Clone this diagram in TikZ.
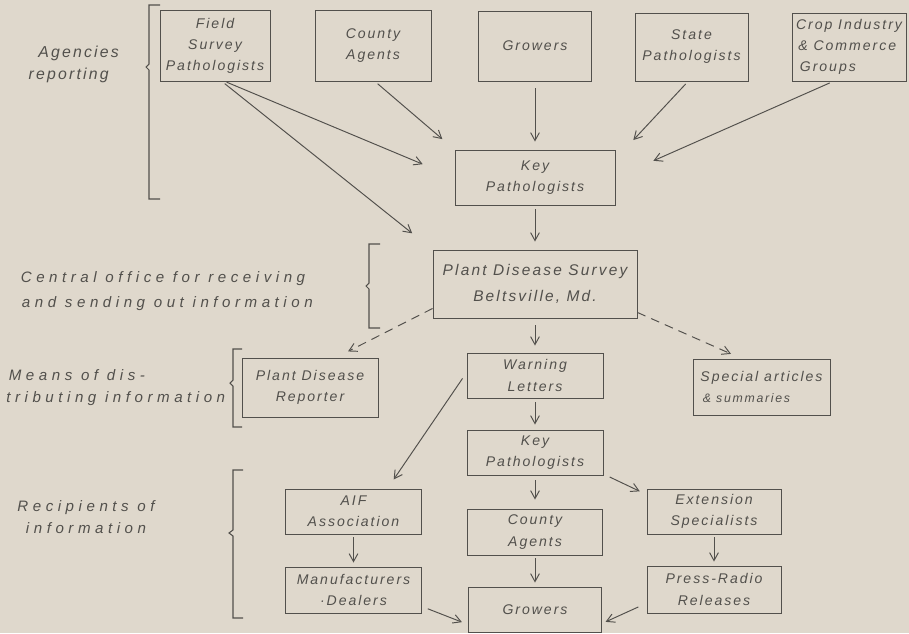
\documentclass[tikz,border=0pt]{standalone}
\usepackage{fontspec}
\newfontfamily\leroy[LetterSpace=14]{Liberation Sans}
\newfontfamily\leroywide[LetterSpace=30]{Liberation Sans}
\usepackage{tikz}
\usetikzlibrary{arrows.meta}
\usetikzlibrary{positioning}
\definecolor{paper}{RGB}{223,216,204}
\definecolor{ink}{RGB}{82,80,76}
\tikzset{>={Straight Barb[length=4.5pt,width=5pt]}}
\tikzset{box/.style = {draw=ink, line width=0.55pt, inner sep=1pt, align=center, text=ink, font=\leroy\itshape\fontsize{8}{12}\selectfont}}
\tikzset{lbl/.style = {draw=none, inner sep=0, align=center, text=ink, font=\leroywide\itshape\fontsize{8.6}{12.5}\selectfont}}
\tikzset{arr/.style = {->, draw=ink, line width=0.55pt}}
\tikzset{dasharr/.style = {arr, dash pattern=on 5pt off 3.5pt}}
\tikzset{brk/.style = {draw=ink, line width=0.6pt}}

\begin{document}
\begin{tikzpicture}[x=0.02cm, y=-0.02cm]
\fill[paper] (0,0) rectangle (909,633);
\useasboundingbox (0,0) rectangle (909,633);

% agencies reporting
\node [box, minimum width=2.2cm, minimum height=1.42cm] (fsp) at (215,45.5) {Field\\Survey\\Pathologists};
\node [box, minimum width=2.32cm, minimum height=1.42cm] (ca1) at (373,45.5) {County\\Agents};
\node [box, minimum width=2.26cm, minimum height=1.4cm] (gr1) at (535,46) {Growers};
\node [box, minimum width=2.26cm, minimum height=1.36cm] (sp) at (691.5,47) {State\\Pathologists};
\node [box, minimum width=2.28cm, minimum height=1.36cm, align=left] (cig) at (849,47) {Crop Industry\\\,\& Commerce\\\;Groups};
\node [box, minimum width=3.2cm, minimum height=1.1cm] (kp1) at (535,177.5) {Key\\Pathologists};

% central office
\node [box, minimum width=4.08cm, minimum height=1.36cm, font=\leroy\itshape\fontsize{8.8}{15}\selectfont] (pds) at (535,284) {Plant Disease Survey\\Beltsville, Md.};

% means of distributing
\node [box, minimum width=2.72cm, minimum height=1.18cm] (pdr) at (310,387.5) {Plant Disease\\Reporter};
\node [box, minimum width=2.72cm, minimum height=0.9cm] (wl) at (535,375.5) {Warning\\Letters};
\node [box, minimum width=2.74cm, minimum height=1.12cm, align=left] (sa) at (761.5,387) {Special articles\\\,{\fontsize{7}{12}\selectfont\& summaries}};

% recipients
\node [box, minimum width=2.72cm, minimum height=0.9cm] (kp2) at (535,452.5) {Key\\Pathologists};
\node [box, minimum width=2.72cm, minimum height=0.9cm] (aif) at (353.5,511.5) {AIF\\Association};
\node [box, minimum width=2.7cm, minimum height=0.92cm] (ca2) at (535,532) {County\\Agents};
\node [box, minimum width=2.68cm, minimum height=0.9cm] (es) at (714,511.5) {Extension\\Specialists};
\node [box, minimum width=2.72cm, minimum height=0.92cm] (md) at (353.5,590) {Manufacturers\\{\textperiodcentered}Dealers};
\node [box, minimum width=2.66cm, minimum height=0.9cm] (gr2) at (535,609.5) {Growers};
\node [box, minimum width=2.68cm, minimum height=0.94cm] (prr) at (714,589.5) {Press-Radio\\Releases};

% side labels
\node [lbl, font=\leroy\itshape\fontsize{9}{12.5}\selectfont] (ag) at (72,64) {\ \ Agencies\\reporting\ \ };
\node [lbl, font=\leroywide\itshape\fontsize{8.6}{14.5}\selectfont] (co) at (163,291) {Central office for receiving\\\ and sending out information};
\node [lbl, anchor=west, align=left] (mo) at (6,388) {\,Means of dis-\\tributing information};
\node [lbl] (ri) at (86,517) {Recipients of\\information};

% brackets
\draw [brk] (160,5) -- (149,5) -- (149,64) -- (146,67) -- (149,70) -- (149,199) -- (160,199);
\draw [brk] (380,244) -- (369,244) -- (369,283) -- (366,286) -- (369,289) -- (369,328) -- (380,328);
\draw [brk] (242,349) -- (233,349) -- (233,380) -- (230,383) -- (233,386) -- (233,427) -- (242,427);
\draw [brk] (243,470) -- (233,470) -- (233,530) -- (229,533) -- (233,536) -- (233,618) -- (243,618);

% into key pathologists
\draw [arr, shorten <=1pt, shorten >=0.69cm] ([xshift=0.2cm]fsp.south) -- (kp1.west);
\draw [arr, shorten <=2pt, shorten >=0.52cm] ([xshift=0.14cm]fsp.south) -- (pds.north west);
\draw [arr, shorten <=2pt, shorten >=0.32cm] ([xshift=0.04cm]ca1.south) -- (kp1.north west);
\draw [arr, shorten <=0.14cm, shorten >=0.16cm] (gr1) -- (kp1);
\draw [arr, shorten <=2pt, shorten >=0.26cm] ([xshift=-0.07cm]sp.south) -- ([xshift=0.18cm]kp1.north east);
\draw [arr, shorten <=2pt, shorten >=0.83cm] ([xshift=-0.32cm]cig.south) -- (kp1.east);
\draw [arr, shorten <=2pt, shorten >=0.16cm] (kp1) -- (pds);

% out of the survey office
\draw [dasharr, shorten >=0.27cm] ([yshift=0.2cm]pds.south west) -- ([xshift=0.52cm]pdr.north);
\draw [dasharr, shorten >=0.23cm] ([yshift=0.12cm]pds.south east) -- ([xshift=-0.4cm]sa.north);
\draw [arr, shorten <=0.14cm, shorten >=0.14cm] (pds) -- (wl);
\draw [arr, shorten <=2pt, shorten >=0.22cm] ([xshift=-0.04cm]wl.west) -- ([xshift=0.68cm]aif.north);
\draw [arr, shorten <=2pt, shorten >=0.1cm] (wl) -- (kp2);

% to the recipients
\draw [arr, shorten <=0.1cm, shorten >=0.18cm] (kp2) -- (ca2);
\draw [arr, shorten <=2pt, shorten >=0.15cm] ([xshift=0.06cm]kp2.south east) -- ([yshift=-0.12cm]es.north west);
\draw [arr, shorten <=0.06cm, shorten >=0.08cm] (aif) -- (md);
\draw [arr, shorten <=0.06cm, shorten >=0.08cm] (es) -- (prr);
\draw [arr, shorten <=0.06cm, shorten >=0.08cm] (ca2) -- (gr2);
\draw [arr, shorten <=2pt, shorten >=0.13cm] ([yshift=0.12cm,xshift=0.05cm]md.south east) -- ([yshift=-0.3cm]gr2.west);
\draw [arr, shorten <=2pt, shorten >=0.08cm] ([yshift=0.16cm,xshift=-0.1cm]prr.south west) -- ([yshift=-0.28cm]gr2.east);
\end{tikzpicture}
\end{document}
